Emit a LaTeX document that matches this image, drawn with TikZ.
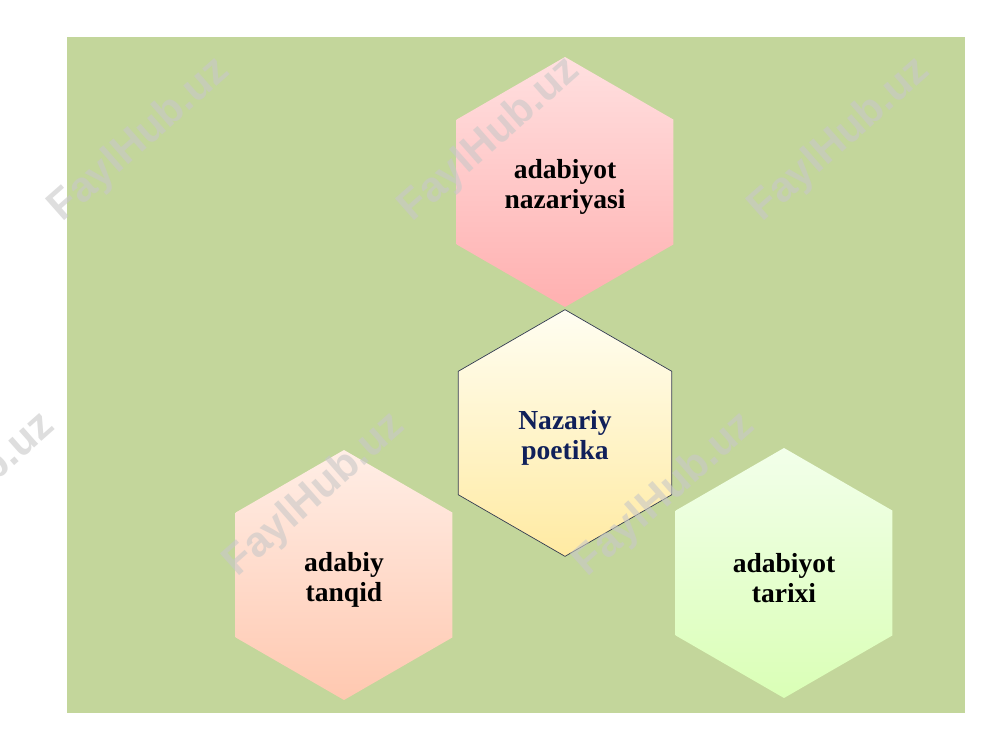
\documentclass[tikz,border=0pt]{standalone}
\usepackage{fontspec}
\setmainfont{Liberation Serif}
\newfontfamily\wmfont{Liberation Sans}
\usetikzlibrary{shapes.geometric}

\definecolor{slidegreen}{RGB}{195,214,155}
\definecolor{pinktop}{RGB}{255,224,224}
\definecolor{pinkbot}{RGB}{255,176,176}
\definecolor{yeltop}{RGB}{255,254,242}
\definecolor{yelbot}{RGB}{255,234,162}
\definecolor{peachtop}{RGB}{255,238,230}
\definecolor{peachbot}{RGB}{255,200,176}
\definecolor{limetop}{RGB}{242,255,234}
\definecolor{limebot}{RGB}{218,255,182}
\definecolor{navytext}{RGB}{16,32,90}
\definecolor{hexline}{RGB}{50,58,80}
\definecolor{wmgray}{RGB}{200,200,200}

\begin{document}
\begin{tikzpicture}[x=0.03cm, y=-0.03cm,
    hexa/.style={regular polygon, regular polygon sides=6, shape border rotate=30,
      minimum size=7.5cm, inner sep=0pt},
    hextext/.style={align=center, inner sep=0pt, yshift=-0.15cm,
      font=\fontsize{23.5}{25}\selectfont\bfseries},
    wmtext/.style={text=wmgray, text opacity=0.6, rotate=41.5,
      font=\wmfont\fontsize{36}{36}\selectfont\bfseries}]

    \useasboundingbox (0,0) rectangle (1000,750);

    % Slide background
    \fill[white] (0,0) rectangle (1000,750);
    \fill[slidegreen] (67,37) rectangle (965,713);

    % Hexagons
    \node[hexa, top color=pinktop, bottom color=pinkbot] (nazariya) at (565,182) {};
    \node[hexa, top color=yeltop, bottom color=yelbot, draw=hexline, line width=0.6pt,
      minimum size=7.4cm] (poetika) at (565,433) {};
    \node[hexa, top color=peachtop, bottom color=peachbot] (tanqid) at (344,575) {};
    \node[hexa, top color=limetop, bottom color=limebot] (tarix) at (784,573) {};

    % Labels
    \node[hextext] (nazariyatxt) at (nazariya) {adabiyot\\nazariyasi};
    \node[hextext, text=navytext] (poetikatxt) at (poetika) {Nazariy\\poetika};
    \node[hextext] (tanqidtxt) at (tanqid) {adabiy\\tanqid};
    \node[hextext] (tarixtxt) at (tarix) {adabiyot\\tarixi};

    % Watermarks
    \node[wmtext] (wm1) at (140,140) {FaylHub.uz};
    \node[wmtext] (wm2) at (490,140) {FaylHub.uz};
    \node[wmtext] (wm3) at (840,140) {FaylHub.uz};
    \node[wmtext] (wm4) at (-35,495) {FaylHub.uz};
    \node[wmtext] (wm5) at (315,495) {FaylHub.uz};
    \node[wmtext] (wm6) at (665,495) {FaylHub.uz};

\end{tikzpicture}
\end{document}
